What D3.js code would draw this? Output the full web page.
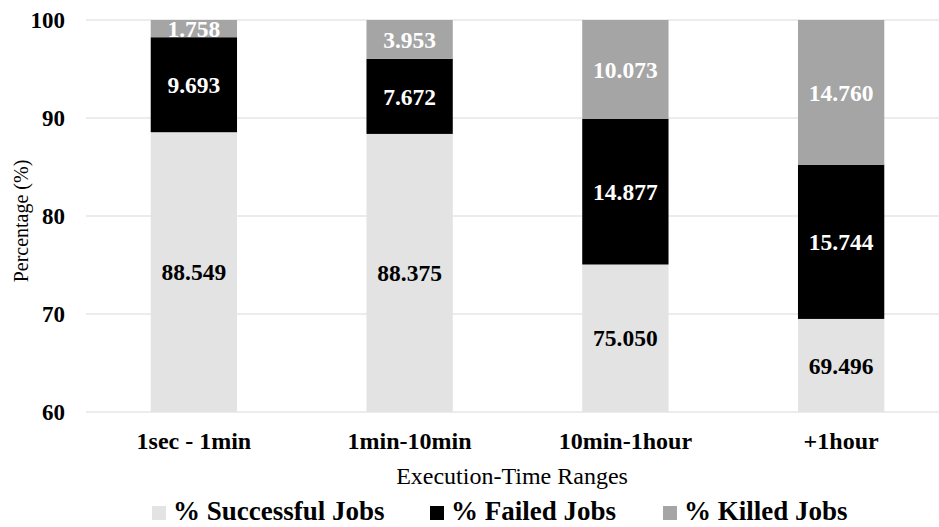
<!DOCTYPE html>
<html>
<head>
<meta charset="utf-8">
<script src="https://cdn.jsdelivr.net/npm/d3@7"></script>
<style>
  html, body { margin: 0; padding: 0; background: #fff; }
  svg { display: block; font-family: "Liberation Serif", "Times New Roman", serif; }
</style>
</head>
<body>
<svg id="chart" width="939" height="527"></svg>
<script>
// Job outcome shares per execution-time range
const categories = ["1sec - 1min", "1min-10min", "10min-1hour", "+1hour"];
const successful = [88.549, 88.375, 75.050, 69.496];
const failed = [9.693, 7.672, 14.877, 15.744];
const killed = [1.758, 3.953, 10.073, 14.760];
const yTicks = [60, 70, 80, 90, 100];
const seriesNames = ["% Successful Jobs", "% Failed Jobs", "% Killed Jobs"];
const seriesColors = ["#e3e3e3", "#000000", "#a5a5a5"];
const labelColors = ["#000000", "#ffffff", "#ffffff"];

const svg = d3.select("#chart");
const W = 939, H = 527;
const plot = { left: 86, right: 949, top: 20, bottom: 412 };

const x = d3.scaleBand().domain(categories).range([plot.left, plot.right]).paddingInner(0.6).paddingOuter(0.3);
const y = d3.scaleLinear().domain([60, 100]).range([plot.bottom, plot.top]);

// gridlines
svg.append("g").selectAll("line").data(yTicks).join("line")
  .attr("x1", plot.left).attr("x2", W)
  .attr("y1", d => y(d)).attr("y2", d => y(d))
  .attr("stroke", "#d9d9d9").attr("stroke-width", 1);

// stacked segments
const rows = categories.map((c, i) => ({ cat: c, s: successful[i], f: failed[i], k: killed[i] }));
const stack = d3.stack().keys(["s", "f", "k"]);
const layers = stack(rows);

const clipId = "plotclip";
svg.append("clipPath").attr("id", clipId).append("rect")
  .attr("x", plot.left).attr("y", plot.top).attr("width", W - plot.left).attr("height", plot.bottom - plot.top);

const barG = svg.append("g").attr("clip-path", `url(#${clipId})`);
layers.forEach((layer, li) => {
  barG.append("g").selectAll("rect").data(layer).join("rect")
    .attr("x", d => x(d.data.cat))
    .attr("width", x.bandwidth())
    .attr("y", d => y(d[1]))
    .attr("height", d => y(Math.max(d[0], 60)) - y(d[1]))
    .attr("fill", seriesColors[li]);
});

// value labels, centred in the visible part of each segment
layers.forEach((layer, li) => {
  svg.append("g").selectAll("text").data(layer).join("text")
    .attr("x", d => x(d.data.cat) + x.bandwidth() / 2)
    .attr("y", d => (y(Math.max(d[0], 60)) + y(d[1])) / 2)
    .attr("dy", "0.35em")
    .attr("text-anchor", "middle")
    .attr("font-size", 23.5).attr("font-weight", "bold")
    .attr("fill", labelColors[li])
    .text(d => (d[1] - d[0]).toFixed(3));
});

// y axis tick labels
svg.append("g").selectAll("text").data(yTicks).join("text")
  .attr("x", 65).attr("y", d => y(d)).attr("dy", "0.35em")
  .attr("text-anchor", "end")
  .attr("font-size", 23).attr("font-weight", "bold")
  .text(d => d);

// category labels
svg.append("g").selectAll("text").data(categories).join("text")
  .attr("x", d => x(d) + x.bandwidth() / 2).attr("y", 449)
  .attr("text-anchor", "middle")
  .attr("font-size", 24).attr("font-weight", "bold")
  .text(d => d);

// axis titles
svg.append("text")
  .attr("x", 512).attr("y", 484).attr("text-anchor", "middle")
  .attr("font-size", 24)
  .text("Execution-Time Ranges");

svg.append("text")
  .attr("transform", "translate(28, 221) rotate(-90)")
  .attr("text-anchor", "middle")
  .attr("font-size", 20)
  .text("Percentage (%)");

// legend
const legendX = [152, 430, 663];
const legend = svg.append("g");
seriesNames.forEach((name, i) => {
  legend.append("rect")
    .attr("x", legendX[i]).attr("y", 506).attr("width", 14).attr("height", 14)
    .attr("fill", seriesColors[i]);
  legend.append("text")
    .attr("x", legendX[i] + 21).attr("y", 520)
    .attr("font-size", 27).attr("font-weight", "bold")
    .text(name);
});
</script>
</body>
</html>
